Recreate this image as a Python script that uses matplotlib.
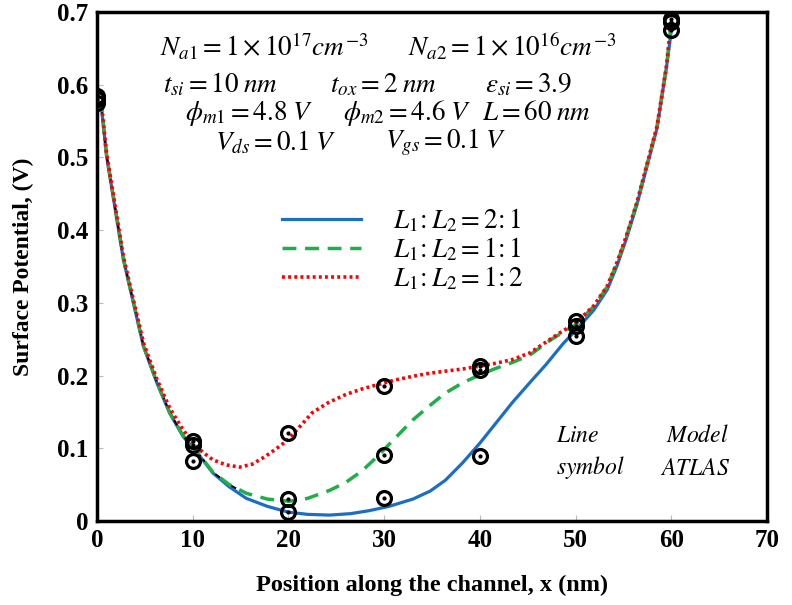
import matplotlib
matplotlib.use("Agg")
from matplotlib import pyplot as plt

plt.rcParams['mathtext.fontset'] = 'stix'

# model curves
x_21 = [0, 0.5, 1.0, 1.9, 2.75, 3.8, 4.85, 6.25, 7.6, 9.0, 10.75, 12.1, 13.8, 15.6, 17.8, 20, 22, 24.3,
        26.5, 28.4, 30.5, 33, 34.8, 36.4, 38.2, 40, 41.7, 43.4, 45.2, 46.9, 48.7, 50, 51.9, 53.3, 54.3,
        55.3, 56.4, 57.4, 58.5, 59.5, 60]
y_21 = [0.575, 0.564, 0.502, 0.429, 0.36, 0.30, 0.24, 0.19, 0.148, 0.116, 0.089, 0.066, 0.047, 0.031,
        0.02, 0.012, 0.009, 0.008, 0.01, 0.014, 0.02, 0.03, 0.041, 0.056, 0.08, 0.107, 0.135, 0.163,
        0.19, 0.215, 0.244, 0.262, 0.29, 0.318, 0.35, 0.388, 0.435, 0.485, 0.54, 0.625, 0.675]

x_11 = [0, 0.5, 1.0, 1.9, 2.75, 3.8, 4.85, 6.25, 7.6, 9.0, 10.75, 12.1, 13.8, 15.6, 17.8, 20.1, 22, 24.3,
        26, 27.7, 29, 30.2, 31.6, 33, 34.7, 36.4, 38.2, 40, 41.7, 43.4, 45.2, 47.5, 50, 51.9, 53.3, 54.3,
        55.3, 56.4, 57.4, 58.5, 59.5, 60]
y_11 = [0.58, 0.566, 0.503, 0.43, 0.361, 0.301, 0.241, 0.191, 0.149, 0.117, 0.09, 0.067, 0.05, 0.038,
        0.03, 0.027, 0.031, 0.042, 0.053, 0.069, 0.085, 0.101, 0.12, 0.139, 0.158, 0.176, 0.19, 0.201,
        0.21, 0.218, 0.228, 0.25, 0.27, 0.295, 0.322, 0.354, 0.391, 0.437, 0.487, 0.542, 0.625, 0.687]

x_12 = [0, 0.5, 1.0, 1.9, 2.75, 3.8, 4.85, 6.25, 7.6, 9.0, 10, 11, 12.1, 13.5, 14.9, 16.2, 17.5, 18.7,
        19.9, 21.2, 22.5, 24.2, 26, 27.8, 29.5, 31.2, 33, 34.7, 36.4, 38.2, 40, 41.7, 43.4, 45.2, 46.9,
        48.5, 50, 51.9, 53.3, 54.3, 55.3, 56.4, 57.4, 58.5, 59.5, 60]
y_12 = [0.585, 0.568, 0.505, 0.432, 0.364, 0.304, 0.245, 0.195, 0.155, 0.125, 0.108, 0.095, 0.084,
        0.077, 0.074, 0.078, 0.088, 0.099, 0.111, 0.13, 0.149, 0.163, 0.174, 0.182, 0.188, 0.194, 0.199,
        0.203, 0.206, 0.209, 0.213, 0.217, 0.222, 0.231, 0.246, 0.26, 0.272, 0.296, 0.323, 0.355, 0.392,
        0.438, 0.488, 0.543, 0.627, 0.69]

# black trace showing through on the shared descent
x_blk = [0.5, 1.0, 1.9, 2.75, 3.8, 4.85, 6.25, 7.6, 9.0, 10.75, 12.1, 13.8, 15.2]
y_blk = [0.566, 0.503, 0.43, 0.361, 0.301, 0.241, 0.191, 0.149, 0.117, 0.09, 0.067, 0.05, 0.04]

# ATLAS symbols
atlas_x = [0, 10, 20, 30, 40, 50, 60]
atlas_21 = [0.575, 0.083, 0.012, 0.032, 0.089, 0.255, 0.675]
atlas_11 = [0.58, 0.105, 0.030, 0.090, 0.207, 0.268, 0.687]
atlas_12 = [0.585, 0.11, 0.121, 0.185, 0.213, 0.275, 0.69]

labels = [r'$L_1\!:L_2=2\!:1$', r'$L_1\!:L_2=1\!:1$', r'$L_1\!:L_2=1\!:2$']

fig = plt.figure(figsize=(7.92, 6.05), dpi=100)
ax = fig.add_axes([0.1225, 0.139, 0.846, 0.841])

ax.plot(x_21, y_21, color='#1a6fc4', lw=2.3, label=labels[0], zorder=3)
ax.plot(x_blk, y_blk, color='black', lw=1.4, ls=(0, (3, 2)), zorder=3.5)
ax.plot(x_11, y_11, color='#1fae48', lw=2.5, ls=(0, (4, 2.5)), label=labels[1], zorder=4)
ax.plot(x_12, y_12, color='#ff0000', lw=2.6, ls=(0, (0.8, 0.9)), label=labels[2], zorder=5)

for ys in (atlas_21, atlas_11, atlas_12):
    ax.plot(atlas_x, ys, ls='none', marker='o', ms=10, mfc='none', mec='black', mew=2.3, zorder=6)
    ax.plot(atlas_x, ys, ls='none', marker='o', ms=2, mfc='black', mec='black', zorder=6)

ax.set_xlim(0, 70)
ax.set_ylim(0, 0.7)
ax.set_xticks(range(0, 71, 10))
ax.set_yticks([0, 0.1, 0.2, 0.3, 0.4, 0.5, 0.6, 0.7])
ax.set_yticklabels(['0', '0.1', '0.2', '0.3', '0.4', '0.5', '0.6', '0.7'])
ax.tick_params(direction='in', length=4, width=0.8, color='#bbbbbb', pad=6)
for lab in ax.get_xticklabels() + ax.get_yticklabels():
    lab.set_fontfamily('Liberation Serif')
    lab.set_fontweight('bold')
    lab.set_fontsize(18)
for sp in ax.spines.values():
    sp.set_linewidth(2.5)

ax.set_xlabel('Position along the channel, x (nm)', fontfamily='Liberation Serif',
              fontweight='bold', fontsize=17.5, labelpad=16)
ax.set_ylabel('Surface Potential, (V)', fontfamily='Liberation Serif',
              fontweight='bold', fontsize=17, labelpad=17)

leg = ax.legend(loc='upper left', bbox_to_anchor=(0.24, 0.665), frameon=False, fontsize=19.5,
                handlelength=2.9, handletextpad=1.2, labelspacing=0.05)

# parameter block
def px(v):
    return (v - 97) / 9.57

fs = 19.5
ax.text(px(160), 0.652, r'$N_{a1}=1\times10^{17}cm^{-3}$', fontsize=fs, va='center')
ax.text(px(408), 0.652, r'$N_{a2}=1\times10^{16}cm^{-3}$', fontsize=fs, va='center')
ax.text(px(163), 0.600, r'$t_{si}=10\;nm$', fontsize=fs, va='center')
ax.text(px(330), 0.600, r'$t_{ox}=2\;nm$', fontsize=fs, va='center')
ax.text(px(485), 0.600, r'$\varepsilon_{si}=3.9$', fontsize=fs, va='center')
ax.text(px(185), 0.561, r'$\phi_{m1}=4.8\;V$', fontsize=fs, va='center')
ax.text(px(343), 0.561, r'$\phi_{m2}=4.6\;V$', fontsize=fs, va='center')
ax.text(px(482), 0.561, r'$L=60\;nm$', fontsize=fs, va='center')
ax.text(px(215), 0.521, r'$V_{ds}=0.1\;V$', fontsize=fs, va='center')
ax.text(px(385), 0.521, r'$V_{gs}=0.1\;V$', fontsize=fs, va='center')

ax.text(px(556), 0.118, r'$Line$', fontsize=17, va='center')
ax.text(px(666), 0.118, r'$Model$', fontsize=17, va='center')
ax.text(px(556), 0.073, r'$symbol$', fontsize=17, va='center')
ax.text(px(660), 0.073, r'$ATLAS$', fontsize=17, va='center')

fig.savefig('out.png', dpi=100)
